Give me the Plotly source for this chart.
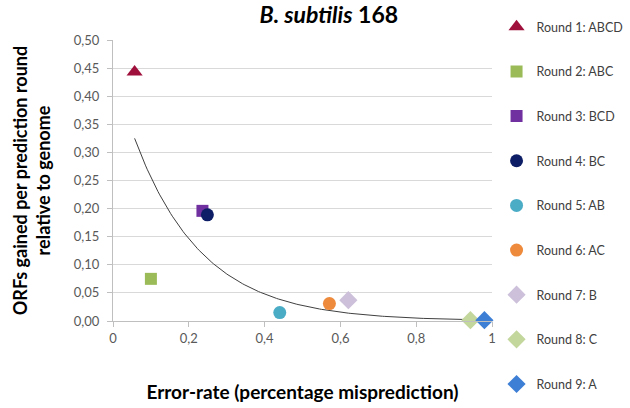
import numpy as np
import plotly.graph_objects as go

# ---- data ----
rounds = ["Round 1: ABCD", "Round 2: ABC", "Round 3: BCD", "Round 4: BC", "Round 5: AB",
          "Round 6: AC", "Round 7: B", "Round 8: C", "Round 9: A"]
error_rate = [0.057, 0.100, 0.236, 0.249, 0.440, 0.571, 0.621, 0.943, 0.980]
orfs_gained = [0.443, 0.075, 0.196, 0.189, 0.015, 0.031, 0.037, 0.0015, 0.0015]
symbols = ["triangle-up", "square", "square", "circle", "circle", "circle", "diamond", "diamond", "diamond"]
colors = ["#A0103C", "#9BBB59", "#7030A0", "#0E1E66", "#4BACC6", "#EE8A3C", "#CCC0DA", "#C3D69B", "#3E7FD6"]
sizes = [14, 12, 12, 13, 13, 13, 14, 14, 14]
y_ticks = [0.0, 0.05, 0.10, 0.15, 0.20, 0.25, 0.30, 0.35, 0.40, 0.45, 0.50]
x_ticks = [0, 0.2, 0.4, 0.6, 0.8, 1.0]

FONT = "Lato"

fig = go.Figure()

# exponential trendline fitted to the data (as Excel does)
xa = np.array(error_rate)
ya = np.array(orfs_gained)
b, ln_a = np.polyfit(xa, np.log(ya), 1)
xt = np.linspace(xa.min(), 1.0, 200)
yt = np.exp(ln_a) * np.exp(b * xt)
fig.add_trace(go.Scatter(x=xt, y=yt, mode="lines", line=dict(color="#404040", width=1),
                         showlegend=False, hoverinfo="skip"))

for i, name in enumerate(rounds):
    fig.add_trace(go.Scatter(
        x=[error_rate[i]], y=[orfs_gained[i]], mode="markers", name=name,
        legendgroup=f"g{i}",
        marker=dict(symbol=symbols[i], color=colors[i], size=sizes[i], line=dict(width=0)),
        cliponaxis=False,
    ))

fig.update_layout(
    width=630, height=408,
    margin=dict(l=113, r=138, t=40, b=87, autoexpand=False),
    paper_bgcolor="white", plot_bgcolor="white",
    separators=",.",
    font=dict(family=FONT, color="#595959", size=13),
    title=dict(text="<b><i>B. subtilis</i> 168</b>", x=0.522, xref="container", xanchor="center",
               y=0.963, yref="container", yanchor="middle",
               font=dict(family=FONT, size=23, color="#000000")),
    legend=dict(x=1.012, xanchor="left", y=1.099, yanchor="top", traceorder="grouped",
                tracegroupgap=25.4, maxheight=1.0, font=dict(family=FONT, size=12.5, color="#404040"),
                bgcolor="rgba(0,0,0,0)", itemclick=False),
    showlegend=True,
)
fig.update_xaxes(
    range=[0, 1], tickvals=x_ticks, showgrid=False, zeroline=False,
    showline=True, linecolor="#BFBFBF", linewidth=1,
    ticks="outside", ticklen=5, tickcolor="#BFBFBF",
    tickfont=dict(family=FONT, size=13, color="#595959"),
    title=dict(text="<b>Error-rate (percentage misprediction)</b>", standoff=41,
               font=dict(family=FONT, size=19, color="#000000")),
)
fig.update_yaxes(
    range=[0, 0.5], tickvals=y_ticks, tickformat=".2f", showgrid=True, gridcolor="#D9D9D9",
    gridwidth=1, zeroline=False,
    showline=True, linecolor="#BFBFBF", linewidth=1,
    ticks="outside", ticklen=5, tickcolor="#BFBFBF", ticklabelstandoff=5,
    tickfont=dict(family=FONT, size=13, color="#595959"),
    title=dict(text="<b>ORFs gained per prediction round<br>relative to genome</b>", standoff=18,
               font=dict(family=FONT, size=18, color="#000000")),
)

fig.write_html("out.html")
